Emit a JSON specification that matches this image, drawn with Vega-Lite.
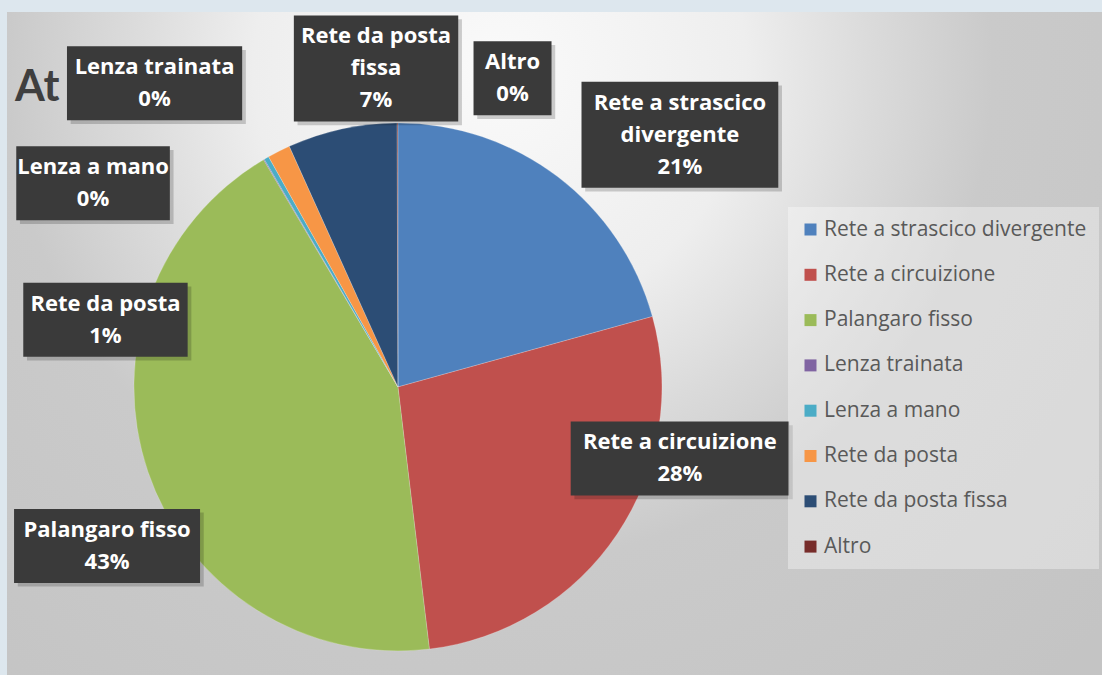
{
  "$schema": "https://vega.github.io/schema/vega-lite/v6.json",
  "width": 1102,
  "height": 675,
  "autosize": {"type": "fit", "contains": "padding"},
  "padding": {"top": 12, "left": 7, "right": 0, "bottom": 0},
  "background": "#dde7ee",
  "config": {"view": {"stroke": null}, "font": "Open Sans"},
  "title": {
    "text": "At",
    "anchor": "start",
    "frame": "group",
    "orient": "top",
    "offset": -132,
    "baseline": "alphabetic",
    "font": "Lato",
    "fontSize": 43,
    "fontWeight": "bold",
    "color": "#3f3f3f",
    "dx": 8
  },
  "datasets": {
    "pie": [
      {"cat": "Rete a strascico divergente", "share": 20.7},
      {"cat": "Rete a circuizione", "share": 27.4},
      {"cat": "Palangaro fisso", "share": 43.4},
      {"cat": "Lenza trainata", "share": 0.05},
      {"cat": "Lenza a mano", "share": 0.3},
      {"cat": "Rete da posta", "share": 1.4},
      {"cat": "Rete da posta fissa", "share": 6.7},
      {"cat": "Altro", "share": 0.05}
    ],
    "labels": [
      {"cat": "Rete a strascico divergente", "txt": "Rete a strascico\ndivergente\n21%", "lx": 1.068, "ly": 0.955},
      {"cat": "Rete a circuizione", "txt": "Rete a circuizione\n28%", "lx": 1.068, "ly": -0.271},
      {"cat": "Palangaro fisso", "txt": "Palangaro fisso\n43%", "lx": -1.102, "ly": -0.602},
      {"cat": "Lenza trainata", "txt": "Lenza trainata\n0%", "lx": -0.922, "ly": 1.15},
      {"cat": "Lenza a mano", "txt": "Lenza a mano\n0%", "lx": -1.155, "ly": 0.771},
      {"cat": "Rete da posta", "txt": "Rete da posta\n1%", "lx": -1.108, "ly": 0.254},
      {"cat": "Rete da posta fissa", "txt": "Rete da posta\nfissa\n7%", "lx": -0.083, "ly": 1.206},
      {"cat": "Altro", "txt": "Altro\n0%", "lx": 0.434, "ly": 1.169}
    ]
  },
  "layer": [
    {
      "data": {"values": [{}]},
      "mark": {
        "type": "rect",
        "fill": {
          "gradient": "radial",
          "x1": 0.45, "y1": 0.25, "x2": 0.45, "y2": 0.25, "r1": 0, "r2": 0.75,
          "stops": [
            {"offset": 0, "color": "#fafafa"},
            {"offset": 0.3, "color": "#eeeeee"},
            {"offset": 0.45, "color": "#dbdbdb"},
            {"offset": 0.6, "color": "#cacaca"},
            {"offset": 1, "color": "#c4c4c4"}
          ]
        }
      },
      "encoding": {
        "x": {"value": 0},
        "x2": {"value": "width"},
        "y": {"value": 0},
        "y2": {"value": "height"}
      }
    },
    {
      "data": {"name": "pie"},
      "transform": [{"window": [{"op": "row_number", "as": "rank"}]}],
      "mark": {"type": "arc", "outerRadius": 264, "stroke": "#ffffff", "strokeWidth": 0.5, "strokeOpacity": 0.4},
      "encoding": {
        "theta": {"field": "share", "type": "quantitative", "stack": true},
        "order": {"field": "rank", "type": "quantitative"},
        "color": {
          "field": "cat",
          "type": "nominal",
          "sort": ["Rete a strascico divergente", "Rete a circuizione", "Palangaro fisso", "Lenza trainata", "Lenza a mano", "Rete da posta", "Rete da posta fissa", "Altro"],
          "scale": {
            "domain": ["Rete a strascico divergente", "Rete a circuizione", "Palangaro fisso", "Lenza trainata", "Lenza a mano", "Rete da posta", "Rete da posta fissa", "Altro"],
            "range": ["#4F81BD", "#C0504D", "#9BBB59", "#8064A2", "#4BACC6", "#F79646", "#2C4D75", "#772C2A"]
          },
          "legend": {
            "orient": "none",
            "legendX": 781,
            "legendY": 195,
            "title": null,
            "symbolType": "square",
            "symbolSize": 144,
            "symbolStrokeWidth": 0,
            "labelFont": "Open Sans",
            "labelFontSize": 21,
            "labelColor": "#595959",
            "rowPadding": 23.3,
            "labelOffset": 3,
            "labelLimit": 400,
            "fillColor": "rgba(255,255,255,0.35)",
            "padding": 12
          }
        },
        "x": {"datum": 0, "type": "quantitative", "scale": {"domain": [-1.481, 2.667], "nice": false, "zero": false}, "axis": null},
        "y": {"datum": 0, "type": "quantitative", "scale": {"domain": [-1.091, 1.42], "nice": false, "zero": false}, "axis": null}
      }
    },
    {
      "data": {"name": "labels"},
      "transform": [
        {"calculate": "length(split(datum.txt, '\\n'))", "as": "nl"},
        {"calculate": "(length(split(datum.txt, '\\n')[0]) * 10.8 + 24) / 528", "as": "hw"},
        {"calculate": "(datum.nl * 32 + 10) / 528", "as": "hh"},
        {"calculate": "datum.lx - datum.hw + 0.014", "as": "sx1"},
        {"calculate": "datum.lx + datum.hw + 0.014", "as": "sx2"},
        {"calculate": "datum.ly - datum.hh - 0.014", "as": "sy1"},
        {"calculate": "datum.ly + datum.hh - 0.014", "as": "sy2"}
      ],
      "mark": {"type": "rect", "fill": "#000000", "opacity": 0.18},
      "encoding": {
        "x": {"field": "sx1", "type": "quantitative", "scale": {"domain": [-1.481, 2.667], "nice": false, "zero": false}, "axis": null},
        "x2": {"field": "sx2"},
        "y": {"field": "sy1", "type": "quantitative", "scale": {"domain": [-1.091, 1.42], "nice": false, "zero": false}, "axis": null},
        "y2": {"field": "sy2"}
      }
    },
    {
      "data": {"name": "labels"},
      "transform": [
        {"calculate": "length(split(datum.txt, '\\n'))", "as": "nl"},
        {"calculate": "(length(split(datum.txt, '\\n')[0]) * 10.8 + 24) / 528", "as": "hw"},
        {"calculate": "(datum.nl * 32 + 10) / 528", "as": "hh"},
        {"calculate": "datum.lx - datum.hw", "as": "bx1"},
        {"calculate": "datum.lx + datum.hw", "as": "bx2"},
        {"calculate": "datum.ly - datum.hh", "as": "by1"},
        {"calculate": "datum.ly + datum.hh", "as": "by2"}
      ],
      "mark": {"type": "rect", "fill": "#3a3a3a"},
      "encoding": {
        "x": {"field": "bx1", "type": "quantitative", "scale": {"domain": [-1.481, 2.667], "nice": false, "zero": false}, "axis": null},
        "x2": {"field": "bx2"},
        "y": {"field": "by1", "type": "quantitative", "scale": {"domain": [-1.091, 1.42], "nice": false, "zero": false}, "axis": null},
        "y2": {"field": "by2"}
      }
    },
    {
      "data": {"name": "labels"},
      "transform": [
        {"calculate": "length(split(datum.txt, '\\n'))", "as": "nl"},
        {"calculate": "(datum.nl * 32 + 10) / 528", "as": "hh"},
        {"calculate": "datum.ly + datum.hh", "as": "by2"}
      ],
      "mark": {"type": "text", "font": "Open Sans", "fontSize": 22, "fontWeight": "bold", "color": "#ffffff", "align": "center", "baseline": "line-top", "dy": 6, "lineBreak": "\n", "lineHeight": 32},
      "encoding": {
        "x": {"field": "lx", "type": "quantitative", "scale": {"domain": [-1.481, 2.667], "nice": false, "zero": false}, "axis": null},
        "y": {"field": "by2", "type": "quantitative", "scale": {"domain": [-1.091, 1.42], "nice": false, "zero": false}, "axis": null},
        "text": {"field": "txt", "type": "nominal"}
      }
    }
  ]
}
